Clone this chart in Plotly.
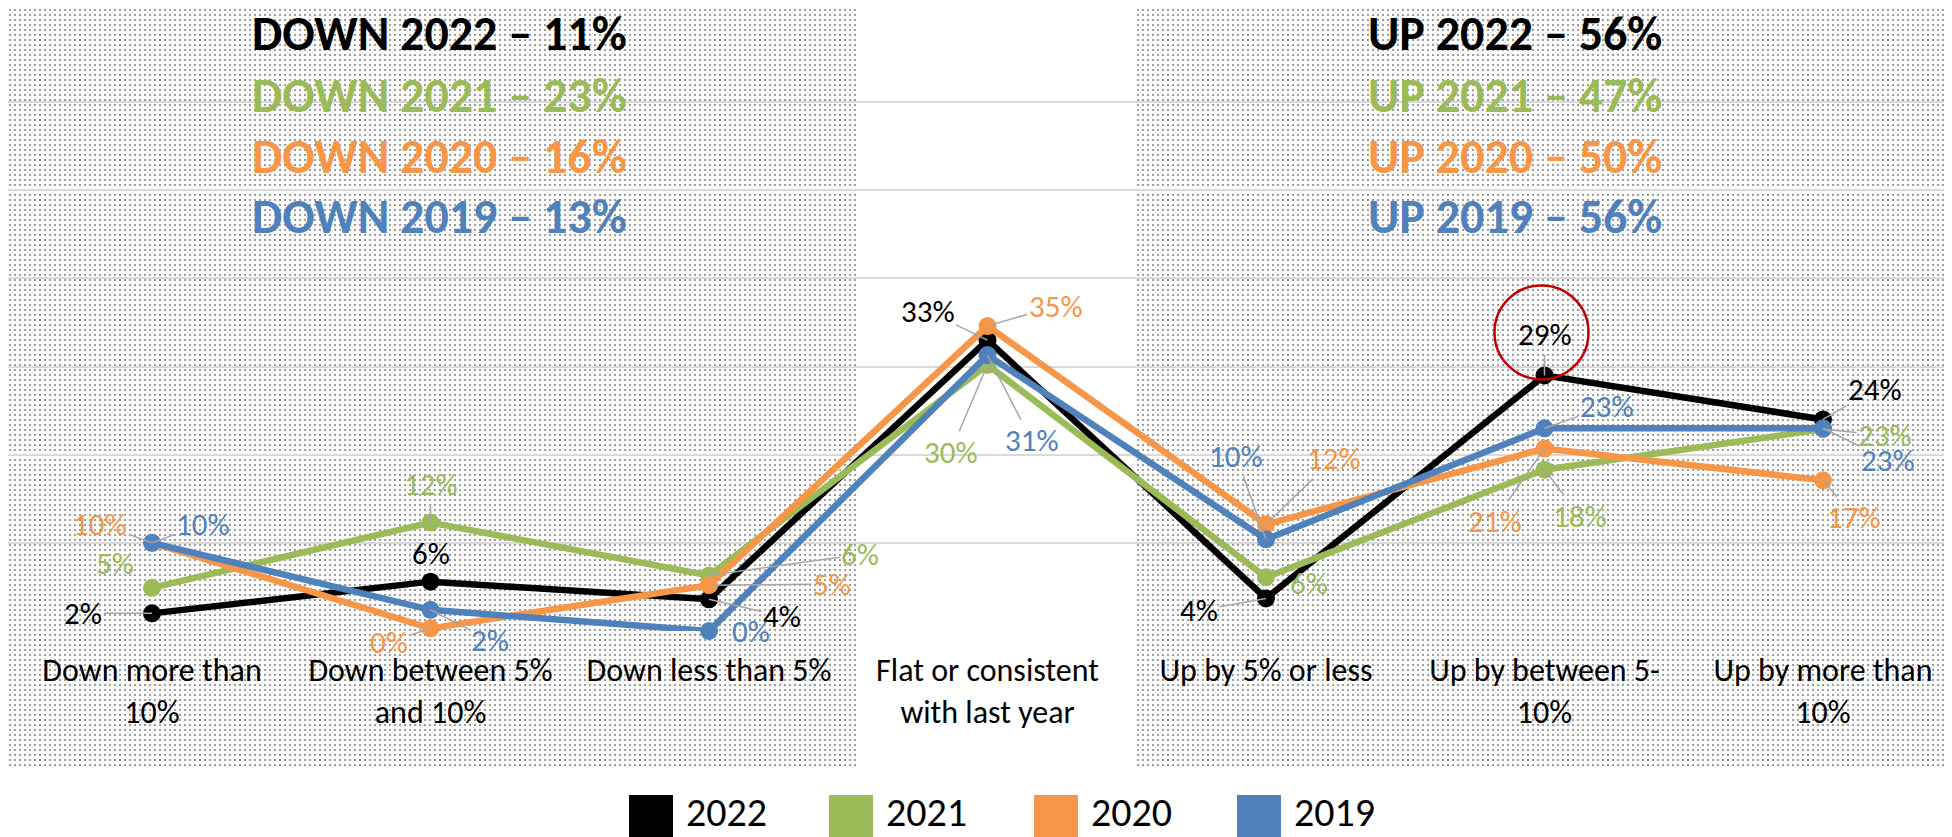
import base64
import plotly.graph_objects as go

# ---------------- data ----------------
categories = ["Down more than 10%", "Down between 5% and 10%", "Down less than 5%",
              "Flat or consistent with last year", "Up by 5% or less",
              "Up by between 5-10%", "Up by more than 10%"]
tick_labels = ["Down more than<br>10%", "Down between 5%<br>and 10%", "Down less than 5%",
               "Flat or consistent<br>with last year", "Up by 5% or less",
               "Up by between 5-<br>10%", "Up by more than<br>10%"]
series_names = ["2022", "2021", "2020", "2019"]
values_2022 = [2.0, 5.6, 3.6, 33.0, 3.7, 29.0, 24.0]
values_2021 = [4.9, 12.3, 6.3, 30.2, 6.1, 18.3, 22.9]
values_2020 = [10.0, 0.3, 5.2, 34.6, 12.1, 20.7, 17.1]
values_2019 = [10.0, 2.4, 0.0, 31.3, 10.4, 23.0, 23.0]
down_titles = ["DOWN 2022 – 11%", "DOWN 2021 – 23%", "DOWN 2020 – 16%", "DOWN 2019 – 13%"]
up_titles = ["UP 2022 – 56%", "UP 2021 – 47%", "UP 2020 – 50%", "UP 2019 – 56%"]

# ---------------- styles ----------------
colors = ["#000000", "#9BBB59", "#F79646", "#4F81BD"]
FONT = "Calibri, Carlito, Lato, sans-serif"
OFF = 8                       # page body margin offset
W, H = 1952 - OFF, 837 - OFF  # figure size so that it ends at window edge
# plot area in window pixels
WL, WR, WT, WB = 8, 1952, 14, 631
PL, PR, PT, PB = WL - OFF, WR - OFF, WT - OFF, WB - OFF

# label offsets (pixels, dx, dy-down) and leader flag per series / category
label_offsets = {
    "2022": [(-69, 0, True), (0, -29, False), (73, 17, True), (-60, -29, True),
             (-67, 12, True), (0, -41, True), (52, -30, True)],
    "2021": [(-37, -25, False), (0, -39, True), (151, -21, True), (-37, 87, True),
             (43, 6, False), (35, 46, True), (62, 6, True)],
    "2020": [(-52, -19, True), (-42, 14, True), (123, -1, True), (68, -20, True),
             (68, -66, True), (-50, 72, True), (31, 37, True)],
    "2019": [(51, -19, True), (59, 30, True), (42, 0, False), (44, 85, True),
             (-30, -83, True), (62, -22, True), (65, 32, True)],
}

def px2x(wx):
    return (wx - OFF - PL) / (PR - PL)

def py2y(wy):
    return (PB - (wy - OFF)) / (PB - PT)

def pattern_uri(w, h):
    svg = (f'<svg xmlns="http://www.w3.org/2000/svg" width="{w}" height="{h}" shape-rendering="crispEdges">'
           '<defs><pattern id="p" width="5" height="5" patternUnits="userSpaceOnUse">'
           '<rect x="1" y="1" width="2" height="2" fill="#9c9c9c"/></pattern></defs>'
           f'<rect width="{w}" height="{h}" fill="url(#p)"/></svg>')
    return "data:image/svg+xml;base64," + base64.b64encode(svg.encode()).decode()

all_values = [values_2022, values_2021, values_2020, values_2019]

fig = go.Figure()
for name, vals, col in zip(series_names, all_values, colors):
    fig.add_trace(go.Scatter(
        x=categories, y=vals, mode="lines+markers", name=name,
        line=dict(color=col, width=6.5), marker=dict(color=col, size=18),
        cliponaxis=False, showlegend=False, hoverinfo="skip"))

annotations = []
for name, vals, col in zip(series_names, all_values, colors):
    for cat, v, (dx, dy, lead) in zip(categories, vals, label_offsets[name]):
        txt = f"{round(v)}%"
        if lead:
            annotations.append(dict(
                x=cat, y=v, xref="x", yref="y", text=txt, showarrow=True,
                ax=dx, ay=dy, axref="pixel", ayref="pixel", arrowhead=0,
                arrowwidth=1.5, arrowcolor="#A6A6A6", standoff=0,
                font=dict(family=FONT, size=31, color=col)))
        else:
            annotations.append(dict(
                x=cat, y=v, xref="x", yref="y", text=txt, showarrow=False,
                xshift=dx, yshift=-dy, font=dict(family=FONT, size=31, color=col)))

# header texts
title_centers = [33, 96, 157, 217]
for t, col, cy in zip(down_titles, colors, title_centers):
    annotations.append(dict(x=px2x(629), y=py2y(cy), xref="paper", yref="paper",
                            xanchor="right", yanchor="middle", showarrow=False,
                            text=f"<b>{t}</b>", font=dict(family=FONT, size=48, color=col)))
for t, col, cy in zip(up_titles, colors, title_centers):
    annotations.append(dict(x=px2x(1664), y=py2y(cy), xref="paper", yref="paper",
                            xanchor="right", yanchor="middle", showarrow=False,
                            text=f"<b>{t}</b>", font=dict(family=FONT, size=48, color=col)))

# manual legend
shapes = []
leg_sq_left = [629, 829, 1034, 1237]
for name, col, lx in zip(series_names, colors, leg_sq_left):
    shapes.append(dict(type="rect", xref="paper", yref="paper",
                       x0=px2x(lx), x1=px2x(lx + 44), y0=py2y(837), y1=py2y(795),
                       fillcolor=col, line=dict(width=0)))
    annotations.append(dict(x=px2x(lx + 55), y=py2y(812), xref="paper", yref="paper",
                            xanchor="left", yanchor="middle", showarrow=False, text=name,
                            font=dict(family=FONT, size=40, color="#000000")))

# highlight circle around 2022 peak in "Up by between 5-10%"
shapes.append(dict(type="circle", xref="x", yref="y", xsizemode="pixel", ysizemode="pixel",
                   xanchor=5, yanchor=values_2022[5], x0=-50, x1=44, y0=-4, y1=90,
                   line=dict(color="#C00000", width=2.5)))

images = [
    dict(source=pattern_uri(849, 758), xref="paper", yref="paper",
         x=px2x(8), y=py2y(8), sizex=px2x(857) - px2x(8), sizey=py2y(8) - py2y(766),
         xanchor="left", yanchor="top", sizing="stretch", layer="below"),
    dict(source=pattern_uri(816, 758), xref="paper", yref="paper",
         x=px2x(1136), y=py2y(8), sizex=px2x(1952) - px2x(1136), sizey=py2y(8) - py2y(766),
         xanchor="left", yanchor="top", sizing="stretch", layer="below"),
]

unit = 278.5
x0 = -(152 - WL) / unit
fig.update_layout(
    width=W, height=H, autosize=False,
    margin=dict(l=PL, r=W - PR, t=PT, b=H - PB),
    paper_bgcolor="white", plot_bgcolor="rgba(0,0,0,0)",
    showlegend=False,
    annotations=annotations, shapes=shapes, images=images,
    font=dict(family=FONT, color="#000000"),
    xaxis=dict(type="category", range=[x0, x0 + (PR - PL) / unit],
               tickvals=categories, ticktext=tick_labels, showgrid=False,
               zeroline=False, showline=False, ticks="", ticklabelstandoff=17,
               tickfont=dict(family=FONT, size=32, color="#000000")),
    yaxis=dict(range=[0, 70], tickvals=[0, 10, 20, 30, 40, 50, 60], showticklabels=False,
               showgrid=True, gridcolor="#D9D9D9", gridwidth=2, zeroline=False,
               showline=False, ticks=""),
)

fig.write_html("out.html")
